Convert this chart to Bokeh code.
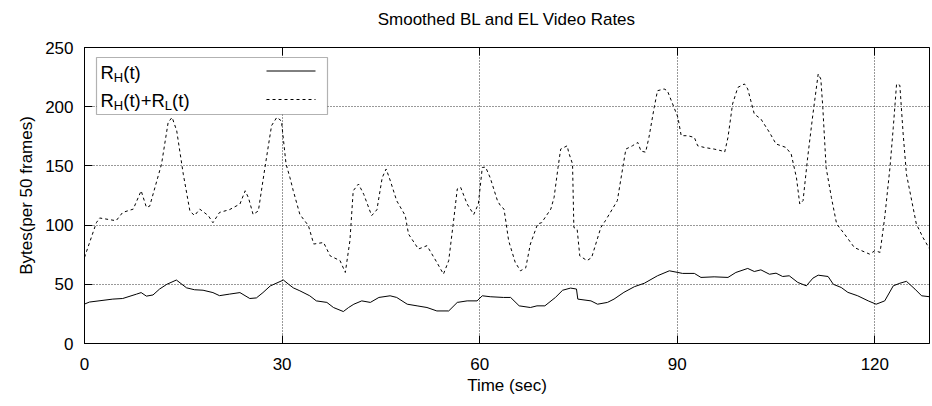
from bokeh.plotting import figure
from bokeh.models import Range1d, FixedTicker, Label, BoxAnnotation, Arrow, LinearAxis
from bokeh.embed import file_html
from bokeh.resources import INLINE

# ---- data ----
t_total = [0, 1.8, 2.3, 4.8, 5.8, 7.4, 8.6, 9.4, 9.9, 11.7, 12.7, 13.3, 14.0, 15.0, 16.0, 16.7,
           17.5, 18.8, 19.5, 20.5, 22.0, 23.6, 24.4, 24.9, 25.6, 26.4, 27.4, 28.4, 29.2, 29.9,
           30.6, 31.2, 31.7, 32.7, 34.0, 34.8, 36.3, 37.3, 38.8, 39.6, 40.3, 40.8, 41.6, 42.4,
           43.6, 44.4, 45.2, 45.8, 46.4, 47.4, 48.7, 49.2, 50.7, 52.0, 53.5, 54.5, 55.3, 56.1,
           56.6, 57.1, 58.1, 59.1, 59.8, 60.4, 60.9, 61.6, 62.7, 63.2, 63.7, 64.4, 65.4, 66.2,
           67.0, 67.7, 68.8, 69.4, 70.8, 71.3, 71.9, 72.3, 73.3, 73.5, 74.1, 74.3, 74.8, 75.2,
           76.3, 77.0, 78.4, 79.1, 80.9, 81.4, 82.2, 83.2, 84.0, 84.5, 85.2, 85.7, 86.5, 87.0,
           88.0, 88.5, 89.3, 90.1, 90.6, 91.6, 92.6, 93.1, 94.1, 95.6, 96.7, 97.2, 97.7, 98.4,
           99.2, 100.2, 100.7, 101.7, 102.7, 104.0, 105.0, 106.5, 107.3, 108.1, 108.6, 109.1,
           109.8, 110.6, 111.4, 111.8, 112.1, 112.6, 113.4, 114.2, 115.4, 116.9, 119.2, 120.0,
           120.8, 121.5, 122.3, 122.8, 123.3, 123.8, 124.3, 124.8, 125.6, 126.3, 127.3, 128.3]
rate_total = [72.7, 102, 106, 103.7, 110.7, 113.5, 129, 115, 116, 151.6, 186.7, 191, 179.7, 143,
              112, 108, 113.5, 108, 102, 110.7, 113, 117.8, 129, 123, 109, 112, 148.7, 184, 191,
              188, 151.6, 140, 129, 109, 99.5, 84, 85.3, 74, 70, 60, 86.8, 129, 134.7, 126,
              108, 113, 140, 147.4, 138, 120.6, 108, 92.4, 79.8, 82.6, 68.5, 58.6, 70, 106.5,
              130.5, 132, 117.8, 109, 117.8, 148.7, 149, 140, 120.6, 116, 113.5, 86.8, 68.5, 61.4,
              64, 84, 101, 102, 113.5, 123.4, 148.7, 164.2, 167, 161.6, 151.6, 98, 96.6, 74,
              70, 72.6, 98, 103.8, 120.6, 137.5, 164.2, 167, 169.8, 162.5, 161.6, 174, 199.4, 213.5,
              215, 213.5, 202.3, 191, 175.5, 175.5, 174, 167, 165.6, 164.2, 162.8, 161.6, 174, 202.3,
              216.3, 219.2, 215, 193.8, 189.6, 178.3, 168.5, 165.6, 160, 140, 117.8, 120.6,
              157, 193.8, 227.6, 223.4, 199.4, 148.7, 123.4, 101, 92.4, 81, 75.5, 78.3,
              77, 106.5, 148.7, 182.5, 219.2, 218, 177, 143, 120.6, 101, 89.6, 80]

t_high = [0, 0.75, 4.3, 5.8, 7.9, 8.6, 9.4, 10.4, 11.4, 12.5, 13.95, 15.5, 16.7, 18.0, 19.5, 20.5,
          22.0, 23.6, 25.1, 26.1, 27.1, 28.2, 30.2, 31.0, 31.7, 32.7, 34.2, 35.2, 36.8, 37.8,
          39.3, 40.1, 40.9, 42.1, 43.4, 44.7, 46.4, 47.4, 49.0, 50.5, 52.0, 53.5, 55.3, 56.6,
          58.1, 59.6, 60.4, 61.6, 63.6, 64.7, 66.0, 67.7, 68.7, 69.9, 71.5, 72.6, 73.8, 74.7,
          74.9, 76.9, 77.9, 79.4, 80.4, 81.9, 83.5, 85.0, 87.0, 88.8, 90.1, 90.8, 92.6, 93.6,
          95.6, 97.7, 98.9, 100.7, 101.7, 102.7, 104.0, 105.0, 106.0, 107.0, 108.3, 109.6,
          110.6, 111.4, 112.9, 113.7, 114.9, 115.9, 117.4, 119.0, 120.2, 121.5, 122.8, 123.8,
          124.8, 126.1, 127.1, 128.3]
rate_high = [33.3, 35, 37.5, 38, 41.7, 43, 40, 41, 46, 50, 53.6, 47, 45.4, 45, 43, 40.4,
             41.7, 43, 38, 38.5, 43, 48.6, 53.6, 50, 47, 44.5, 40.3, 36, 34.7, 30.4,
             27, 30.4, 33.2, 36, 34.7, 38.9, 40.3, 38.9, 33.2, 31.8, 30.4, 27.5, 27.5, 34.7,
             36, 36, 40.3, 39.5, 38.9, 38.9, 31.8, 30.4, 31.8, 31.8, 38.9, 45, 46.8, 46,
             37.5, 36, 33.2, 34.7, 37.5, 43.2, 48, 50.9, 57.2, 61.4, 60, 59.2, 59.2, 55.8,
             56.3, 55.8, 60, 63.4, 60.8, 62.2, 58.5, 59.4, 56.6, 57.2, 51.6, 48.7,
             55.2, 57.7, 56.6, 50, 47.3, 43.2, 40.3, 36, 33.2, 36, 48.7, 50.9,
             52.5, 45.9, 40.3, 39.5]

x_ticks = [0, 30, 60, 90, 120]
y_ticks = [0, 50, 100, 150, 200, 250]

TITLE = "Smoothed BL and EL Video Rates"
FONT = "Liberation Sans"

# frame geometry (pixels) used to place the hand-built legend
FL, FR, FT, FB = 84, 929, 47, 343
XMAX, YMAX = 128.3, 250


def dx(px):
    return (px - FL) / (FR - FL) * XMAX


def dy(py):
    return (FB - py) / (FB - FT) * YMAX


p = figure(width=932, height=406, output_backend="svg", toolbar_location=None,
           x_range=Range1d(0, XMAX), y_range=Range1d(0, YMAX),
           min_border_left=FL, min_border_right=932 - FR,
           min_border_top=FT, min_border_bottom=406 - FB)

p.background_fill_color = "white"
p.border_fill_color = "white"
p.outline_line_color = "black"
p.outline_line_width = 1

xa = p.below[0]
ya = p.left[0]

for ax in (xa, ya):
    ax.major_label_text_font = FONT
    ax.major_label_text_font_size = "17px"
    ax.major_label_text_color = "black"
    ax.axis_label_text_font = FONT
    ax.axis_label_text_font_size = "17px"
    ax.axis_label_text_font_style = "normal"
    ax.axis_label_text_color = "black"
    ax.major_tick_in = 8
    ax.major_tick_out = 0
    ax.minor_tick_line_color = None
    ax.axis_line_color = "black"
    ax.major_tick_line_color = "black"

xa.ticker = FixedTicker(ticks=x_ticks)
ya.ticker = FixedTicker(ticks=y_ticks)
xa.axis_label = "Time (sec)"
ya.axis_label = "Bytes(per 50 frames)"
xa.major_label_standoff = 14
ya.major_label_standoff = 11
xa.axis_label_standoff = 3
ya.axis_label_standoff = 6

# top axis: inward ticks only, no tick labels; its axis label carries the title
top = LinearAxis(ticker=FixedTicker(ticks=x_ticks), major_label_text_font_size="0px",
                 major_label_text_color=None, major_label_standoff=0,
                 major_tick_in=8, major_tick_out=0,
                 minor_tick_line_color=None, axis_line_color="black",
                 major_tick_line_color="black",
                 axis_label=TITLE, axis_label_text_font=FONT,
                 axis_label_text_font_size="17px", axis_label_text_font_style="normal",
                 axis_label_text_color="black", axis_label_standoff=19)
p.add_layout(top, "above")

p.xgrid.ticker = FixedTicker(ticks=x_ticks)
p.ygrid.ticker = FixedTicker(ticks=y_ticks)
for g in (p.xgrid, p.ygrid):
    g.grid_line_color = "black"
    g.grid_line_alpha = 0.8
    g.grid_line_dash = "1 2"
    g.grid_line_width = 1

p.line(t_total, rate_total, line_color="black", line_width=1, line_dash="3 3")
p.line(t_high, rate_high, line_color="black", line_width=1)

# ---- legend (hand built to allow subscripts) ----
p.add_layout(BoxAnnotation(left=dx(96), right=dx(327), top=dy(57), bottom=dy(114),
                           fill_color="white", fill_alpha=1.0,
                           line_color="black", line_width=1.2))

FS = 18.5
SS = 13
W = {"R": 0.722, "H": 0.722, "L": 0.556, "(": 0.333, "t": 0.278, ")": 0.333, "+": 0.584}


def width(s, fs):
    return sum(W[c] for c in s) * fs


def math_label(parts, x0, base):
    x = x0
    for txt, sub in parts:
        fs = SS if sub else FS
        yb = base + (5 if sub else 0)
        p.add_layout(Label(x=dx(x), y=dy(yb), text=txt, text_font=FONT,
                           text_font_size=f"{fs}px", text_color="black",
                           text_baseline="alphabetic", text_align="left"))
        x += width(txt, fs)


math_label([("R", False), ("H", True), ("(t)", False)], 100, 71.5)
math_label([("R", False), ("H", True), ("(t)+R", False), ("L", True), ("(t)", False)], 100, 99.5)

p.add_layout(Arrow(end=None, start=None, x_start=dx(266), y_start=dy(70.5),
                   x_end=dx(315), y_end=dy(70.5), line_color="black", line_width=1))
p.add_layout(Arrow(end=None, start=None, x_start=dx(266), y_start=dy(99),
                   x_end=dx(315), y_end=dy(99), line_color="black", line_width=1,
                   line_dash="3 3"))

open("out.html", "w").write(file_html(p, INLINE))
